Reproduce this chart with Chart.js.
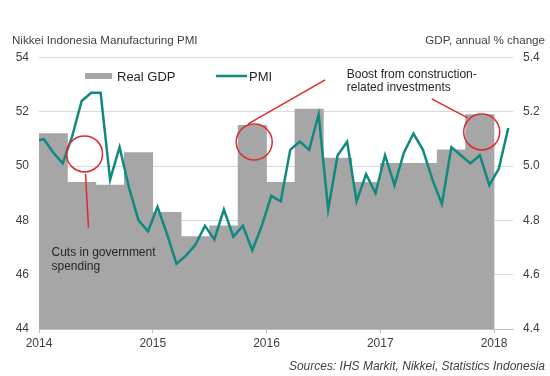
<!DOCTYPE html>
<html>
<head>
<meta charset="utf-8">
<title>Indonesia PMI vs GDP</title>
<script src="https://cdn.jsdelivr.net/npm/chart.js@4.4.0/dist/chart.umd.min.js"></script>
<style>
    html, body { margin: 0; padding: 0; background: #ffffff; }
</style>
</head>
<body>
<canvas id="pmiChart" width="550" height="376"></canvas>
<script>
// PMI, monthly, Dec 2013 - Feb 2018 (Dec 2013 only feeds the line into the left edge)
var pmiMonths = ['Dec 13',
    'Jan 14', 'Feb 14', 'Mar 14', 'Apr 14', 'May 14', 'Jun 14', 'Jul 14', 'Aug 14', 'Sep 14', 'Oct 14', 'Nov 14', 'Dec 14',
    'Jan 15', 'Feb 15', 'Mar 15', 'Apr 15', 'May 15', 'Jun 15', 'Jul 15', 'Aug 15', 'Sep 15', 'Oct 15', 'Nov 15', 'Dec 15',
    'Jan 16', 'Feb 16', 'Mar 16', 'Apr 16', 'May 16', 'Jun 16', 'Jul 16', 'Aug 16', 'Sep 16', 'Oct 16', 'Nov 16', 'Dec 16',
    'Jan 17', 'Feb 17', 'Mar 17', 'Apr 17', 'May 17', 'Jun 17', 'Jul 17', 'Aug 17', 'Sep 17', 'Oct 17', 'Nov 17', 'Dec 17',
    'Jan 18', 'Feb 18'];
var pmiValues = [50.9,
    51.0, 50.5, 50.1, 51.1, 52.4, 52.7, 52.7, 49.5, 50.7, 49.2, 48.0, 47.6,
    48.5, 47.5, 46.4, 46.7, 47.1, 47.8, 47.3, 48.4, 47.4, 47.8, 46.9, 47.8,
    48.9, 48.7, 50.6, 50.9, 50.6, 51.9, 48.4, 50.4, 50.9, 48.7, 49.7, 49.0,
    50.4, 49.3, 50.5, 51.2, 50.6, 49.5, 48.6, 50.7, 50.4, 50.1, 50.4, 49.3,
    49.9, 51.4];

// real GDP, annual % change, quarterly
var gdpQuarters = ['Q1 14', 'Q2 14', 'Q3 14', 'Q4 14', 'Q1 15', 'Q2 15', 'Q3 15', 'Q4 15',
    'Q1 16', 'Q2 16', 'Q3 16', 'Q4 16', 'Q1 17', 'Q2 17', 'Q3 17', 'Q4 17'];
var gdpValues = [5.12, 4.94, 4.93, 5.05, 4.83, 4.74, 4.78, 5.15,
    4.94, 5.21, 5.03, 4.94, 5.01, 5.01, 5.06, 5.19];

var yearLabels = ['2014', '2015', '2016', '2017', '2018'];

var teal = '#0f8a7e';
var grey = '#a6a6a6';
var red = '#e0292b';
var textColor = '#404040';
var fontFamily = "'Liberation Sans', Arial, sans-serif";

// x axis counts months from Jan 2014; a month's point sits mid-month, a quarter's bar spans 3 months
var pmiPoints = pmiValues.map(function (v, i) { return { x: i - 0.5, y: v }; });
var gdpPoints = gdpValues.map(function (v, i) { return { x: i * 3 + 1.5, y: v }; });

var annotations = {
    id: 'annotations',
    afterDatasetsDraw: function (chart) {
        var c = chart.ctx;
        var x = chart.scales.x, y1 = chart.scales.y1;
        c.save();
        c.strokeStyle = red;
        c.lineWidth = 1.5;

        function circle(m, g) {
            var cx = x.getPixelForValue(m), cy = y1.getPixelForValue(g);
            c.beginPath();
            c.arc(cx, cy, 18, 0, Math.PI * 2);
            c.stroke();
            return { x: cx, y: cy };
        }
        function seg(p, dx1, dy1, dx2, dy2) {
            c.beginPath();
            c.moveTo(p.x + dx1, p.y + dy1);
            c.lineTo(p.x + dx2, p.y + dy2);
            c.stroke();
        }

        var c1 = circle(4.8, 5.045);
        seg(c1, 1, 20, 4, 74);
        var c2 = circle(22.7, 5.089);
        seg(c2, -6, -18, 71, -62);
        var c3 = circle(46.7, 5.126);
        seg(c3, -14, -14, -50, -33);

        c.fillStyle = '#262626';
        c.font = '12px ' + fontFamily;
        c.textAlign = 'left';
        c.textBaseline = 'middle';
        c.fillText('Cuts in government', c1.x - 33, c1.y + 99);
        c.fillText('spending', c1.x - 33, c1.y + 113);
        c.fillText('Boost from construction-', c3.x - 135, c3.y - 57);
        c.fillText('related investments', c3.x - 135, c3.y - 44);

        // legend
        c.fillStyle = grey;
        c.fillRect(85, 73, 27, 6);
        c.strokeStyle = teal;
        c.lineWidth = 2.5;
        c.beginPath();
        c.moveTo(216, 76);
        c.lineTo(247, 76);
        c.stroke();
        c.fillStyle = '#262626';
        c.font = '13px ' + fontFamily;
        c.fillText('Real GDP', 117, 77);
        c.fillText('PMI', 249, 77);

        // axis captions and source
        c.fillStyle = textColor;
        c.font = '11.6px ' + fontFamily;
        c.fillText('Nikkei Indonesia Manufacturing PMI', 12, 41);
        c.textAlign = 'right';
        c.fillText('GDP, annual % change', 545, 41);
        c.font = 'italic 12px ' + fontFamily;
        c.fillText('Sources: IHS Markit, Nikkei, Statistics Indonesia', 545, 367);
        c.restore();
    }
};

Chart.defaults.font.family = fontFamily;
Chart.defaults.font.size = 12;
Chart.defaults.color = textColor;

var ctx = document.getElementById('pmiChart').getContext('2d');
var myChart = new Chart(ctx, {
    data: {
        datasets: [{
            type: 'line',
            label: 'PMI',
            data: pmiPoints,
            borderColor: teal,
            borderWidth: 2.5,
            pointRadius: 0,
            tension: 0,
            clip: 0,
            yAxisID: 'y',
            order: 0
        }, {
            type: 'bar',
            label: 'Real GDP',
            data: gdpPoints,
            backgroundColor: grey,
            borderWidth: 0,
            barPercentage: 1,
            categoryPercentage: 1,
            yAxisID: 'y1',
            order: 1
        }]
    },
    options: {
        responsive: false,
        animation: false,
        layout: {
            padding: { top: 57.5, left: 0, right: 0, bottom: 0 }
        },
        scales: {
            x: {
                type: 'linear',
                offset: false,
                min: 0,
                max: 50,
                afterBuildTicks: function (scale) {
                    scale.ticks = yearLabels.map(function (l, i) { return { value: i * 12 }; });
                },
                afterFit: function (scale) { scale.height = 47; },
                ticks: {
                    padding: 3,
                    maxRotation: 0,
                    callback: function (v) { return yearLabels[v / 12]; }
                },
                grid: {
                    offset: false,
                    drawOnChartArea: false,
                    tickLength: 4,
                    color: '#bfbfbf'
                },
                border: { color: '#bfbfbf' }
            },
            y: {
                position: 'left',
                min: 44,
                max: 54,
                afterFit: function (scale) { scale.width = 39; },
                ticks: { stepSize: 2, padding: 10 },
                grid: { color: '#d9d9d9', drawTicks: false },
                border: { display: false }
            },
            y1: {
                position: 'right',
                min: 4.4,
                max: 5.4,
                afterFit: function (scale) { scale.width = 37; },
                ticks: {
                    stepSize: 0.2,
                    padding: 10,
                    callback: function (v) { return v.toFixed(1); }
                },
                grid: { drawOnChartArea: false, drawTicks: false },
                border: { display: false }
            }
        },
        plugins: {
            legend: { display: false },
            tooltip: { enabled: false }
        }
    },
    plugins: [annotations]
});
</script>
</body>
</html>
